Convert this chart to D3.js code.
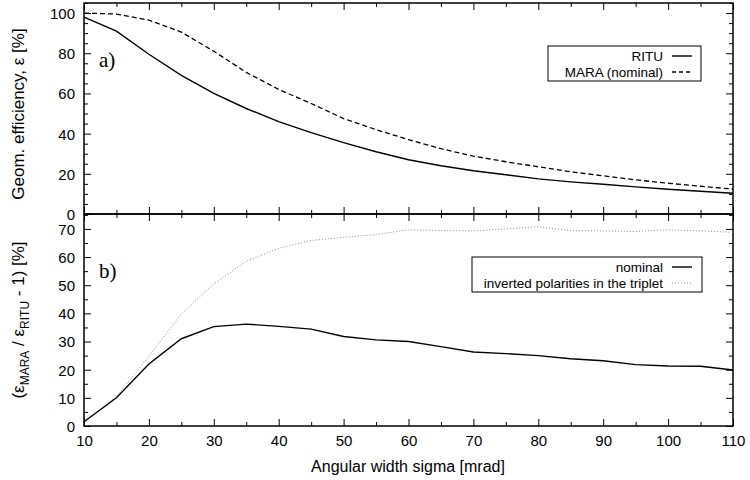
<!DOCTYPE html>
<html>
<head>
<meta charset="utf-8">
<script src="https://cdn.jsdelivr.net/npm/d3@7"></script>
<style>
  body { margin: 0; background: #fff; }
  text { font-family: "Liberation Sans", Arial, sans-serif; }
</style>
</head>
<body>
<svg id="chart" width="750" height="480"></svg>
<script>
// angular width sigma [mrad]
var sigma = [10, 15, 20, 25, 30, 35, 40, 45, 50, 55, 60, 65, 70, 75, 80, 85, 90, 95, 100, 105, 110];
// panel a) geometric efficiency [%]
var ritu = [98, 91, 79.5, 69, 60, 52.5, 46, 40.5, 35.5, 31, 27, 24, 21.5, 19.5, 17.5, 16, 14.8, 13.5, 12.3, 11.3, 10.3];
var maraNominal = [100, 99.5, 96.5, 90.5, 81, 70.5, 62, 55, 47.5, 42, 37, 32.5, 28.8, 26, 23.5, 21, 19, 17, 15.3, 13.8, 12.4];
// panel b) relative gain [%]
var gainNominal = [1.5, 10, 22, 31, 35.3, 36.2, 35.4, 34.4, 31.8, 30.6, 30, 28.2, 26.3, 25.7, 25, 23.9, 23.2, 21.8, 21.3, 21.2, 19.9];
var gainInverted = [1.5, 10.5, 24.8, 39.8, 50.5, 58.5, 63.1, 65.9, 67, 68, 69.7, 69.4, 69.3, 70, 70.8, 69.4, 69.3, 69.1, 69.7, 69.3, 68.8];

var X_TICKS = [10, 20, 30, 40, 50, 60, 70, 80, 90, 100, 110];
var TOP_TICKS = [0, 20, 40, 60, 80, 100];
var BOTTOM_TICKS = [0, 10, 20, 30, 40, 50, 60, 70];

var LEFT = 84, RIGHT = 733;
var MAJOR = 7, MINOR = 4;

var svg = d3.select('#chart');

var x = d3.scaleLinear().domain([10, 110]).range([LEFT, RIGHT]);
var yTop = d3.scaleLinear().domain([0, 105]).range([214, 3]);
var yBot = d3.scaleLinear().domain([0, 75.3]).range([426, 214]);

function rows(ys) {
  return sigma.map(function (s, i) { return [s, ys[i]]; });
}

/**
 * Draws frame ticks (major + minor, mirrored) for one panel
 */
function drawPanel(y, majors, minorStep, showX) {
  var y0 = y.range()[0], y1 = y.range()[1];
  var minorY = d3.range(0, y.domain()[1] + 0.01, minorStep).filter(function (v) { return majors.indexOf(v) < 0; });
  var minorX = d3.range(15, 110, 10);
  var g = svg.append('g');

  // bottom
  var bx = g.append('g').attr('transform', 'translate(0,' + y0 + ')')
    .call(d3.axisBottom(x).tickValues(X_TICKS).tickSize(-MAJOR).tickFormat(showX ? d3.format('d') : ''));
  g.append('g').attr('transform', 'translate(0,' + y0 + ')')
    .call(d3.axisBottom(x).tickValues(minorX).tickSize(-MINOR).tickFormat(''));
  // top
  g.append('g').attr('transform', 'translate(0,' + y1 + ')')
    .call(d3.axisTop(x).tickValues(X_TICKS).tickSize(-MAJOR).tickFormat(''));
  g.append('g').attr('transform', 'translate(0,' + y1 + ')')
    .call(d3.axisTop(x).tickValues(minorX).tickSize(-MINOR).tickFormat(''));
  // left
  var ly = g.append('g').attr('transform', 'translate(' + LEFT + ',0)')
    .call(d3.axisLeft(y).tickValues(majors).tickSize(-MAJOR).tickPadding(9).tickFormat(d3.format('d')));
  g.append('g').attr('transform', 'translate(' + LEFT + ',0)')
    .call(d3.axisLeft(y).tickValues(minorY).tickSize(-MINOR).tickFormat(''));
  // right
  g.append('g').attr('transform', 'translate(' + RIGHT + ',0)')
    .call(d3.axisRight(y).tickValues(majors).tickSize(-MAJOR).tickFormat(''));
  g.append('g').attr('transform', 'translate(' + RIGHT + ',0)')
    .call(d3.axisRight(y).tickValues(minorY).tickSize(-MINOR).tickFormat(''));

  g.selectAll('.domain').remove();
  g.selectAll('.tick line').attr('stroke', '#000').attr('stroke-width', 1);
  g.selectAll('.tick text').attr('font-size', 15).attr('fill', '#000')
    .style('font-family', '"Liberation Sans", Arial, sans-serif');
  if (showX) bx.selectAll('.tick text').attr('dy', '1.1em');
  ly.selectAll('.tick text').attr('dy', '0.36em');

  g.append('rect').attr('x', LEFT).attr('y', y1).attr('width', RIGHT - LEFT).attr('height', y0 - y1)
    .attr('fill', 'none').attr('stroke', '#000').attr('stroke-width', 1.5);
}

drawPanel(yTop, TOP_TICKS, 5, false);
drawPanel(yBot, BOTTOM_TICKS, 5, true);

// Curves
var lineTop = d3.line().x(function (d) { return x(d[0]); }).y(function (d) { return yTop(d[1]); });
var lineBot = d3.line().x(function (d) { return x(d[0]); }).y(function (d) { return yBot(d[1]); });

svg.append('path').attr('d', lineTop(rows(ritu))).attr('fill', 'none')
  .attr('stroke', '#000').attr('stroke-width', 1.4);
svg.append('path').attr('d', lineTop(rows(maraNominal))).attr('fill', 'none')
  .attr('stroke', '#000').attr('stroke-width', 1.3).attr('stroke-dasharray', '5,3');
svg.append('path').attr('d', lineBot(rows(gainInverted))).attr('fill', 'none')
  .attr('stroke', '#888').attr('stroke-width', 1).attr('stroke-dasharray', '1,2');
svg.append('path').attr('d', lineBot(rows(gainNominal))).attr('fill', 'none')
  .attr('stroke', '#000').attr('stroke-width', 1.4);

// Panel labels
svg.append('text').attr('x', 99).attr('y', 67).text('a)')
  .style('font-family', '"Liberation Serif", "Times New Roman", serif').attr('font-size', 21);
svg.append('text').attr('x', 99).attr('y', 278).text('b)')
  .style('font-family', '"Liberation Serif", "Times New Roman", serif').attr('font-size', 21);

// Legends
function legend(x0, y0, w, h, items) {
  var g = svg.append('g');
  g.append('rect').attr('x', x0).attr('y', y0).attr('width', w).attr('height', h)
    .attr('fill', '#fff').attr('stroke', '#000').attr('stroke-width', 1);
  items.forEach(function (it, i) {
    var yy = y0 + 10 + i * 16;
    g.append('text').attr('x', 663).attr('y', yy).attr('dy', '0.35em').attr('text-anchor', 'end')
      .attr('font-size', 13.5).text(it.label);
    g.append('line').attr('x1', 672).attr('x2', 692).attr('y1', yy).attr('y2', yy)
      .attr('stroke', it.color).attr('stroke-width', it.width).attr('stroke-dasharray', it.dash);
  });
}
legend(548, 46, 153, 35, [
  { label: 'RITU', color: '#000', width: 1.4, dash: null },
  { label: 'MARA (nominal)', color: '#000', width: 1.3, dash: '4,3' }
]);
legend(472, 257, 230, 35, [
  { label: 'nominal', color: '#000', width: 1.4, dash: null },
  { label: 'inverted polarities in the triplet', color: '#888', width: 1, dash: '1,2' }
]);

// Axis titles
svg.append('text').attr('x', 408).attr('y', 472).attr('text-anchor', 'middle')
  .attr('font-size', 16).text('Angular width sigma [mrad]');
svg.append('text').attr('transform', 'translate(24,114) rotate(-90)').attr('text-anchor', 'middle')
  .attr('font-size', 17).text('Geom. efficiency, ε [%]');
var t2 = svg.append('text').attr('transform', 'translate(24,320) rotate(-90)').attr('text-anchor', 'middle')
  .attr('font-size', 17);
t2.append('tspan').text('(ε');
t2.append('tspan').attr('font-size', 12).attr('dy', 5).text('MARA');
t2.append('tspan').attr('dy', -5).text(' / ε');
t2.append('tspan').attr('font-size', 12).attr('dy', 5).text('RITU');
t2.append('tspan').attr('dy', -5).text(' - 1) [%]');
</script>
</body>
</html>
